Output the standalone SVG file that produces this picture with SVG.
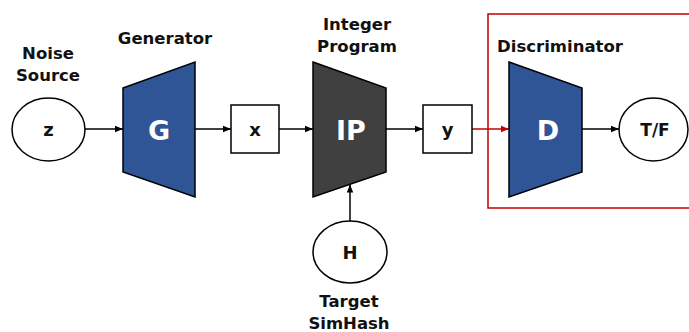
<svg xmlns="http://www.w3.org/2000/svg" width="689" height="332" viewBox="0 0 689 332">
<defs>
<marker id="ah" viewBox="0 0 8 8" refX="8" refY="4" markerWidth="8" markerHeight="8" markerUnits="userSpaceOnUse" orient="auto"><path d="M0,0.8 L8,4 L0,7.2 Z" fill="#000"/></marker>
<marker id="ahr" viewBox="0 0 8 8" refX="8" refY="4" markerWidth="8" markerHeight="8" markerUnits="userSpaceOnUse" orient="auto"><path d="M0,0.8 L8,4 L0,7.2 Z" fill="#c00000"/></marker>
</defs>
<style>
text{font-family:"DejaVu Sans",Verdana,sans-serif;font-weight:bold;text-anchor:middle;fill:#111}
.cap{font-size:16.5px}
.lbl{font-size:18px}
.big{font-size:27px;fill:#fff}
.node{stroke:#000;stroke-width:1.5}
.white{fill:#fff}
.blue{fill:#2f5597}
.dark{fill:#404040}
.conn{stroke:#000;stroke-width:1.5;fill:none;marker-end:url(#ah)}
.red{stroke:#c00000;marker-end:url(#ahr)}
</style>
<rect x="488" y="14" width="205" height="194" fill="none" stroke="#c00000" stroke-width="1.5"/>
<g id="connectors">
<line class="conn" x1="85" y1="129" x2="123" y2="129"/>
<line class="conn" x1="195" y1="129" x2="231" y2="129"/>
<line class="conn" x1="279" y1="129" x2="313" y2="129"/>
<line class="conn" x1="386" y1="129" x2="423" y2="129"/>
<line class="conn red" x1="472" y1="129" x2="509" y2="129"/>
<line class="conn" x1="582" y1="129" x2="619" y2="129"/>
<line class="conn" x1="350" y1="221" x2="350" y2="184.5"/>
</g>
<g id="noise">
<text class="cap" x="48" y="59">Noise</text>
<text class="cap" x="48" y="81">Source</text>
<ellipse class="node white" cx="48.5" cy="129.5" rx="36.5" ry="31.5"/>
<text class="lbl" x="48.5" y="136">z</text>
</g>
<g id="generator">
<text class="cap" x="165" y="44">Generator</text>
<polygon class="node blue" points="123,88 195,62 195,197 123,172"/>
<text class="big" x="159" y="140">G</text>
</g>
<g id="x">
<rect class="node white" x="231" y="105" width="48" height="48"/>
<text class="lbl" x="255" y="136">x</text>
</g>
<g id="ip">
<text class="cap" x="357" y="30">Integer</text>
<text class="cap" x="357" y="52">Program</text>
<polygon class="node dark" points="313,62 386,88 386,172 313,197"/>
<text class="big" x="351" y="140">IP</text>
</g>
<g id="y">
<rect class="node white" x="423" y="105" width="49" height="48"/>
<text class="lbl" x="447.5" y="136">y</text>
</g>
<g id="discriminator">
<text class="cap" x="560" y="52">Discriminator</text>
<polygon class="node blue" points="509,62 582,88 582,172 509,197"/>
<text class="big" x="548" y="140">D</text>
</g>
<g id="tf">
<ellipse class="node white" cx="653.5" cy="129.5" rx="34.5" ry="31.5"/>
<text class="lbl" x="655" y="136" style="font-size:17px">T/F</text>
</g>
<g id="h">
<ellipse class="node white" cx="350" cy="252" rx="37" ry="31"/>
<text class="lbl" x="350" y="259">H</text>
<text class="cap" x="349" y="307">Target</text>
<text class="cap" x="349" y="329">SimHash</text>
</g>
</svg>
